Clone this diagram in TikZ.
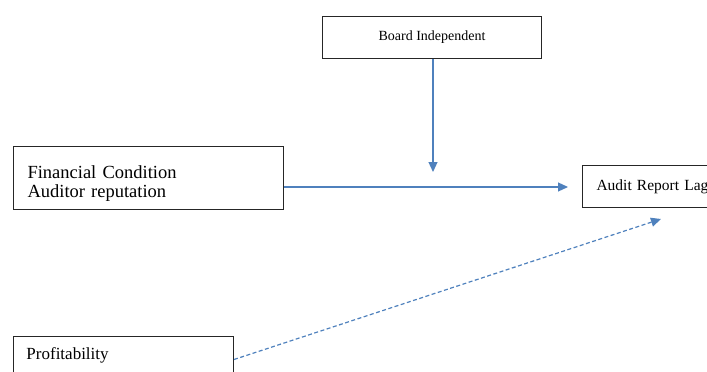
\documentclass[tikz,border=0pt]{standalone}
\usepackage{fontspec}
\setmainfont{Liberation Serif}
\usetikzlibrary{arrows.meta}
\definecolor{linkblue}{RGB}{79,129,189}
\begin{document}
\begin{tikzpicture}[x=1pt,y=-1pt,
  box/.style={draw=black!85, line width=1pt, rectangle, inner ysep=0pt},
  link/.style={draw=linkblue, line width=1.2pt, -{Triangle[length=10pt,width=9pt]}},
  dashlink/.style={link, dash pattern=on 4pt off 2.5pt}]
\useasboundingbox (0,0) rectangle (707,372);
\node[box, anchor=north west, minimum width=219pt, minimum height=42pt,
      font=\fontsize{14}{16}\selectfont] (board) at (322,16) {Board Independent};
\node[box, anchor=north west, inner xsep=14pt, text width=242pt,
      text height=31.7pt, text depth=31.3pt,
      align=left, font=\fontsize{18.5}{19.5}\selectfont] (fin) at (13,146)
      {Financial Condition\\Auditor reputation};
\node[box, anchor=north west, inner xsep=14pt, text width=150pt, minimum height=42pt,
      align=left, font=\fontsize{15.5}{18}\selectfont] (arl) at (582,165) {Audit Report Lag};
\node[box, anchor=north west, inner xsep=13pt, text width=194pt, align=left,
      text height=23pt, text depth=40pt, font=\fontsize{17}{19}\selectfont] (prof) at (13,336)
      {Profitability};
\coordinate (vend) at (433,172);
\coordinate (hend) at (568,187);
\coordinate (dend) at (661,219);
\draw[link] (board.south -| vend) -- (vend);
\draw[link] (fin.east |- hend) -- (hend);
\draw[dashlink] (prof.base east) -- (dend);
\end{tikzpicture}
\end{document}
